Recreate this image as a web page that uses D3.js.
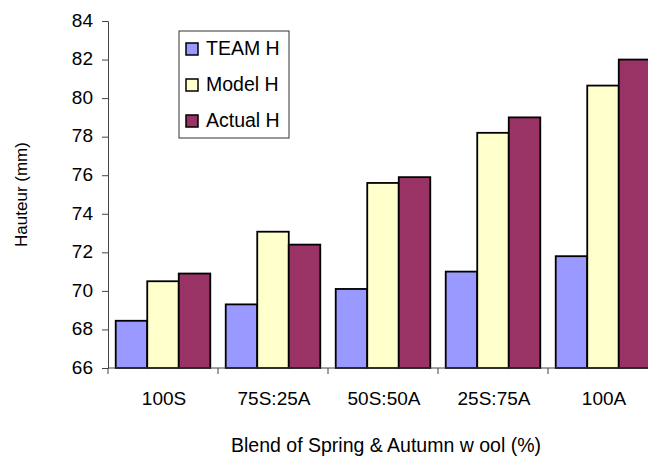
<!DOCTYPE html>
<html lang="en">
<head>
<meta charset="utf-8">
<script src="https://cdnjs.cloudflare.com/ajax/libs/d3/7.8.5/d3.min.js"></script>
<style>
  body { margin: 0; background: #fff; }
  svg { display: block; font-family: "Liberation Sans", Arial, sans-serif; }
</style>
</head>
<body>
<script>
// data
var categories = ["100S", "75S:25A", "50S:50A", "25S:75A", "100A"];
var series = ["TEAM H", "Model H", "Actual H"];
var teamH   = [68.45, 69.3, 70.1, 71.0, 71.8];
var modelH  = [70.5, 73.07, 75.6, 78.2, 80.65];
var actualH = [70.9, 72.4, 75.9, 79.0, 82.0];
var yTicks  = [66, 68, 70, 72, 74, 76, 78, 80, 82, 84];
var colors  = ["#9999FF", "#FFFFCC", "#993366"];

var width = 648, height = 458;
var margin = {left: 108, top: 21, right: -10, bottom: 90};
var font = "Liberation Sans, Arial, sans-serif";

var values = [teamH, modelH, actualH];
var rows = categories.map((c, i) => ({cat: c, vals: series.map((s, j) => ({key: s, v: values[j][i], idx: j}))}));

var svg = d3.select("body").append("svg")
    .attr("width", width)
    .attr("height", height);

var x = d3.scaleBand()
    .domain(categories)
    .range([margin.left, width - margin.right])
    .paddingInner(0)
    .paddingOuter(0);

var xIn = d3.scaleBand()
    .domain(series)
    .range([0, x.bandwidth()])
    .paddingOuter(0.245)
    .paddingInner(0);

var y = d3.scaleLinear()
    .domain([66, 84])
    .range([height - margin.bottom, margin.top]);

// bars
var g = svg.append("g");
g.selectAll("g.grp")
  .data(rows)
  .join("g")
    .attr("class", "grp")
    .attr("transform", d => `translate(${x(d.cat)},0)`)
  .selectAll("rect")
  .data(d => d.vals)
  .join("rect")
    .attr("x", d => xIn(d.key))
    .attr("y", d => y(d.v))
    .attr("width", xIn.bandwidth())
    .attr("height", d => y(66) - y(d.v))
    .attr("fill", d => colors[d.idx])
    .attr("stroke", "#000")
    .attr("stroke-width", 1.8);

// y axis
var yAxis = svg.append("g")
    .attr("transform", `translate(${margin.left},0)`)
    .call(d3.axisLeft(y).tickValues(yTicks).tickSize(6).tickPadding(9));
yAxis.select(".domain").attr("stroke", "#444");
yAxis.selectAll(".tick line").attr("stroke", "#444");
yAxis.selectAll("text").attr("font-size", 19).attr("fill", "#000")
    .attr("font-family", font).attr("dy", "0.28em");

// x axis (ticks on category boundaries)
var xAxisG = svg.append("g")
    .attr("transform", `translate(0,${y(66)})`);
xAxisG.append("line")
    .attr("x1", margin.left).attr("x2", width - margin.right)
    .attr("stroke", "#444");
xAxisG.selectAll("line.tk")
  .data(categories.concat(["end"]))
  .join("line")
    .attr("class", "tk")
    .attr("x1", (d, i) => margin.left + i * x.bandwidth())
    .attr("x2", (d, i) => margin.left + i * x.bandwidth())
    .attr("y1", 0).attr("y2", 6)
    .attr("stroke", "#444");
xAxisG.selectAll("text")
  .data(categories)
  .join("text")
    .attr("x", d => x(d) + x.bandwidth() / 2 + 1)
    .attr("y", 37)
    .attr("text-anchor", "middle")
    .attr("font-size", 19)
    .text(d => d);

// axis titles
svg.append("text")
    .attr("transform", `translate(27,${(y(66) + y(84)) / 2}) rotate(-90)`)
    .attr("text-anchor", "middle")
    .attr("font-size", 17)
    .text("Hauteur (mm)");

svg.append("text")
    .attr("x", 386)
    .attr("y", 452)
    .attr("text-anchor", "middle")
    .attr("font-size", 19.5)
    .text("Blend of Spring & Autumn w ool (%)");

// legend
var leg = svg.append("g").attr("transform", "translate(179,31)");
leg.append("rect")
    .attr("width", 110).attr("height", 107)
    .attr("fill", "#fff").attr("stroke", "#333").attr("stroke-width", 1);
var li = leg.selectAll("g.li")
  .data(series)
  .join("g")
    .attr("class", "li")
    .attr("transform", (d, i) => `translate(7,${24 + i * 36})`);
li.append("rect")
    .attr("y", -12).attr("width", 12).attr("height", 12)
    .attr("fill", (d, i) => colors[i])
    .attr("stroke", "#000").attr("stroke-width", 1.5);
li.append("text")
    .attr("x", 20).attr("y", 0)
    .attr("font-size", 19.5)
    .text(d => d);
</script>
</body>
</html>
